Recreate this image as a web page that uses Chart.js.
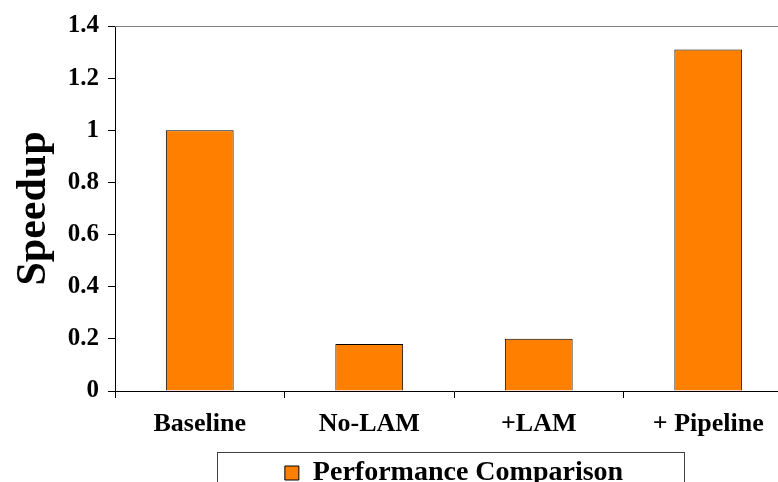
<!DOCTYPE html>
<html lang="en">
<head>
<meta charset="UTF-8">
<title>Speedup</title>
<script src="https://cdn.jsdelivr.net/npm/chart.js"></script>
<style>
    body {
        margin: 0;
        padding: 0;
        background: #fff;
        overflow: hidden;
    }
    #wrap {
        width: 778px;
        height: 482px;
        overflow: hidden;
    }
</style>
</head>
<body>
<div id="wrap">
    <canvas id="speedup-chart" width="812" height="497"></canvas>
</div>
<script>
    var categories = ["Baseline", "No-LAM", "+LAM", "+ Pipeline"];
    var speedup = [1.0, 0.18, 0.2, 1.31];
    var seriesName = "Performance Comparison";

    var serif = "'Liberation Serif', 'Times New Roman', serif";

    // frame: grey top line + box around legend
    var framePlugin = {
        id: 'frame',
        afterDraw: function (chart) {
            var ctx = chart.ctx;
            var a = chart.chartArea;
            ctx.save();
            ctx.strokeStyle = '#808080';
            ctx.lineWidth = 1;
            ctx.beginPath();
            ctx.moveTo(a.left, a.top + 0.5);
            ctx.lineTo(a.right, a.top + 0.5);
            ctx.lineTo(a.right + 0.5, a.bottom);
            ctx.stroke();

            var lg = chart.legend;
            var cx = (lg.left + lg.right) / 2 - 4;
            ctx.strokeStyle = '#404040';
            ctx.strokeRect(Math.round(cx - 233.5) + 0.5, Math.round(lg.top) + 3.5, 467, 60);
            ctx.restore();
        }
    };

    new Chart(document.getElementById('speedup-chart'), {
        type: 'bar',
        data: {
            labels: categories,
            datasets: [{
                label: seriesName,
                data: speedup,
                backgroundColor: '#FF8000',
                borderColor: '#000000',
                borderWidth: 1,
                barPercentage: 0.4,
                categoryPercentage: 1.0
            }]
        },
        options: {
            responsive: false,
            animation: false,
            layout: {
                padding: { top: 26, right: 19, left: 0, bottom: 0 }
            },
            plugins: {
                tooltip: { enabled: false },
                legend: {
                    position: 'bottom',
                    fullSize: false,
                    labels: {
                        color: '#000',
                        boxWidth: 14,
                        boxHeight: 14,
                        padding: 10,
                        font: { family: serif, size: 28, weight: 'bold' }
                    }
                }
            },
            scales: {
                x: {
                    afterFit: function (scale) { scale.height = 58; },
                    grid: {
                        offset: true,
                        drawOnChartArea: false,
                        drawTicks: true,
                        tickLength: 7,
                        color: '#000'
                    },
                    border: { color: '#000', width: 1 },
                    ticks: {
                        color: '#000',
                        padding: 11,
                        maxRotation: 0,
                        font: { family: serif, size: 26, weight: 'bold' }
                    }
                },
                y: {
                    min: 0,
                    max: 1.4,
                    afterFit: function (scale) { scale.width = 115; },
                    grid: {
                        drawOnChartArea: false,
                        drawTicks: true,
                        tickLength: 7,
                        color: '#000'
                    },
                    border: { color: '#000', width: 1 },
                    ticks: {
                        stepSize: 0.2,
                        color: '#000',
                        padding: 9,
                        font: { family: serif, size: 25, weight: 'bold' },
                        callback: function (v) {
                            return Math.round(v * 10) / 10;
                        }
                    },
                    title: {
                        display: true,
                        text: 'Speedup',
                        color: '#000',
                        padding: { top: 9, bottom: 0 },
                        font: { family: serif, size: 42, weight: 'bold' }
                    }
                }
            }
        },
        plugins: [framePlugin]
    });
</script>
</body>
</html>
